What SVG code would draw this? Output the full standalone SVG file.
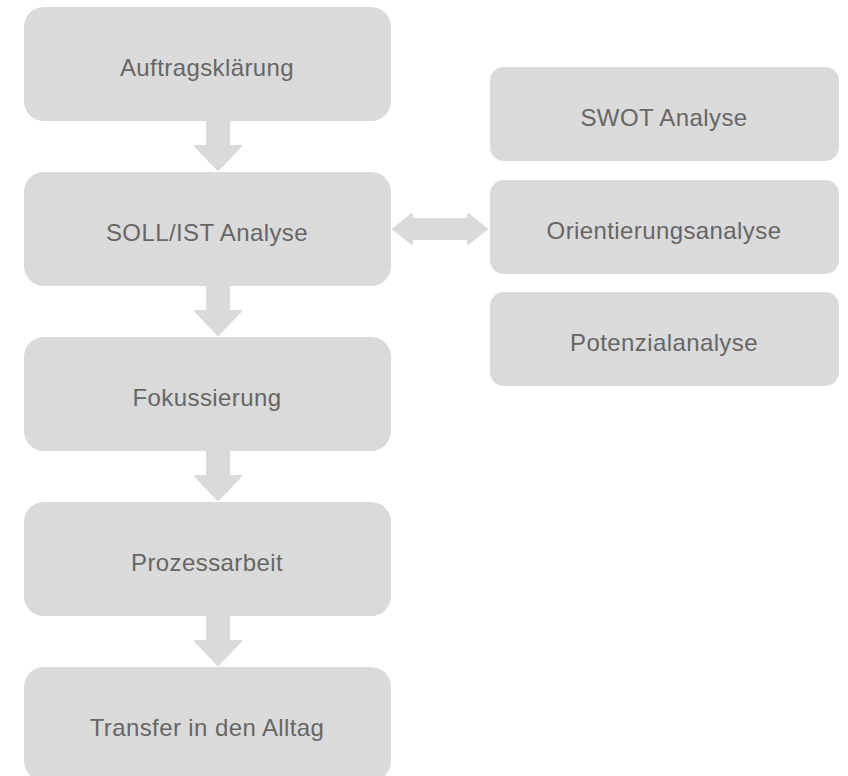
<svg xmlns="http://www.w3.org/2000/svg" width="848" height="776" viewBox="0 0 848 776">
<style>
.box{fill:#dadada}
.arr{fill:#dadada;stroke:#dadada;stroke-width:2;stroke-linejoin:round}
.t{font-family:"Liberation Sans",Arial,sans-serif;font-size:24px;letter-spacing:0.4px;fill:#666;text-anchor:middle}
</style>
<rect width="848" height="776" fill="#fff"/>
<g id="connectors">
<path class="arr" d="M207,121 H229 V146 H241 L218,170 L195,146 H207 Z"/>
<path class="arr" d="M207,286 H229 V311 H241 L218,335 L195,311 H207 Z"/>
<path class="arr" d="M207,451 H229 V476 H241 L218,500 L195,476 H207 Z"/>
<path class="arr" d="M207,616 H229 V641 H241 L218,665 L195,641 H207 Z"/>
<path class="arr" d="M393,229 L412,214 V219 H468 V214 L487,229 L468,244 V239 H412 V244 Z"/>
</g>
<g id="n1"><rect class="box" x="24" y="7" width="367" height="114" rx="20"/><text class="t" x="207" y="76">Auftragsklärung</text></g>
<g id="n2"><rect class="box" x="24" y="172" width="367" height="114" rx="20"/><text class="t" x="207" y="241">SOLL/IST Analyse</text></g>
<g id="n3"><rect class="box" x="24" y="337" width="367" height="114" rx="20"/><text class="t" x="207" y="406">Fokussierung</text></g>
<g id="n4"><rect class="box" x="24" y="502" width="367" height="114" rx="20"/><text class="t" x="207" y="571">Prozessarbeit</text></g>
<g id="n5"><rect class="box" x="24" y="667" width="367" height="114" rx="20"/><text class="t" x="207" y="736">Transfer in den Alltag</text></g>
<g id="r1"><rect class="box" x="490" y="67" width="349" height="94" rx="14"/><text class="t" x="664" y="126">SWOT Analyse</text></g>
<g id="r2"><rect class="box" x="490" y="180" width="349" height="94" rx="14"/><text class="t" x="664" y="239">Orientierungsanalyse</text></g>
<g id="r3"><rect class="box" x="490" y="292" width="349" height="94" rx="14"/><text class="t" x="664" y="351">Potenzialanalyse</text></g>
</svg>
